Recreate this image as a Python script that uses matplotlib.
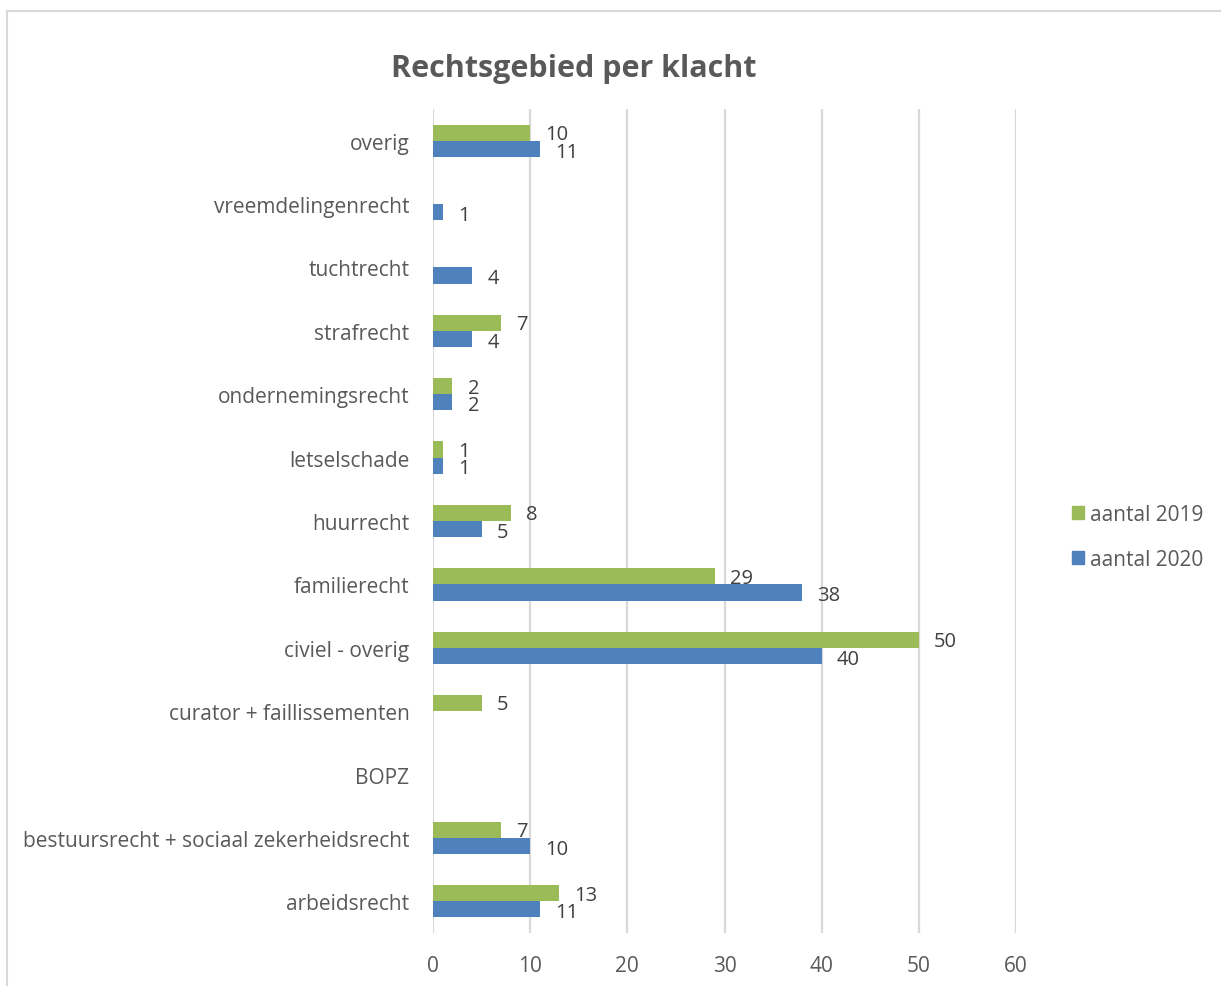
"""
Rechtsgebied per klacht — horizontal grouped bars, 2019 vs 2020.
"""

import matplotlib

matplotlib.use("Agg")
import matplotlib.pyplot as plt
import numpy as np
from matplotlib.lines import Line2D
from matplotlib.patches import Patch

plt.rcParams["font.family"] = ["Open Sans", "DejaVu Sans"]

# bottom -> top, as drawn
CATEGORIES = [
    "arbeidsrecht",
    "bestuursrecht + sociaal zekerheidsrecht",
    "BOPZ",
    "curator + faillissementen",
    "civiel - overig",
    "familierecht",
    "huurrecht",
    "letselschade",
    "ondernemingsrecht",
    "strafrecht",
    "tuchtrecht",
    "vreemdelingenrecht",
    "overig",
]
AANTAL_2019 = [13, 7, 0, 5, 50, 29, 8, 1, 2, 7, 0, 0, 10]
AANTAL_2020 = [11, 10, 0, 0, 40, 38, 5, 1, 2, 4, 4, 1, 11]
X_TICKS = [0, 10, 20, 30, 40, 50, 60]

GREEN = "#9BBB59"
BLUE = "#4F81BD"
TEXT = "#595959"
GRID = "#D9D9D9"

W, H = 1221, 987
fig = plt.figure(figsize=(W / 100, H / 100), dpi=100)
fig.patch.set_facecolor("white")

# chart-area border (only top and left visible in the crop)
fig.add_artist(Line2D([6.5 / W, 1.0], [1 - 11.5 / H] * 2, color=GRID, lw=1.5,
                      transform=fig.transFigure))
fig.add_artist(Line2D([6.5 / W] * 2, [0.0, 1 - 11.5 / H], color=GRID, lw=1.5,
                      transform=fig.transFigure))

ax = fig.add_axes([433 / W, 1 - 934 / H, (1016 - 433) / W, (934 - 110) / H])

y = np.arange(len(CATEGORIES))
h = 0.255
ax.barh(y + h / 2, AANTAL_2019, height=h, color=GREEN, zorder=3)
ax.barh(y - h / 2, AANTAL_2020, height=h, color=BLUE, zorder=3)

for yi, v in zip(y, AANTAL_2019):
    if v:
        ax.annotate(str(v), (v, yi + h / 2), xytext=(11, -1), textcoords="offset points",
                    va="center", ha="left", fontsize=14.5, color="#404040")
for yi, v in zip(y, AANTAL_2020):
    if v:
        ax.annotate(str(v), (v, yi - h / 2), xytext=(11, -2), textcoords="offset points",
                    va="center", ha="left", fontsize=14.5, color="#404040")

ax.set_xlim(0, 60)
ax.set_ylim(-0.5, len(CATEGORIES) - 0.5)
ax.set_xticks(X_TICKS)
ax.set_yticks(y)
ax.set_yticklabels(CATEGORIES)
ax.tick_params(axis="both", length=0, labelsize=15, labelcolor=TEXT)
ax.tick_params(axis="y", pad=17)
ax.tick_params(axis="x", pad=16)
ax.grid(axis="x", color=GRID, lw=1.6, zorder=0)
for s in ax.spines.values():
    s.set_visible(False)

fig.text(574 / W, 1 - 69 / H, "Rechtsgebied per klacht", ha="center", va="center",
         fontsize=22, fontweight="bold", color=TEXT)

handles = [Patch(color=GREEN, label="aantal 2019"), Patch(color=BLUE, label="aantal 2020")]
fig.legend(handles=handles, loc="center left", bbox_to_anchor=(1053 / W, 1 - 538 / H),
           frameon=False, fontsize=15, labelcolor=TEXT, handlelength=0.6,
           handleheight=0.6, handletextpad=0.3, labelspacing=1.15)

fig.savefig("out.png", dpi=100, facecolor="white")
